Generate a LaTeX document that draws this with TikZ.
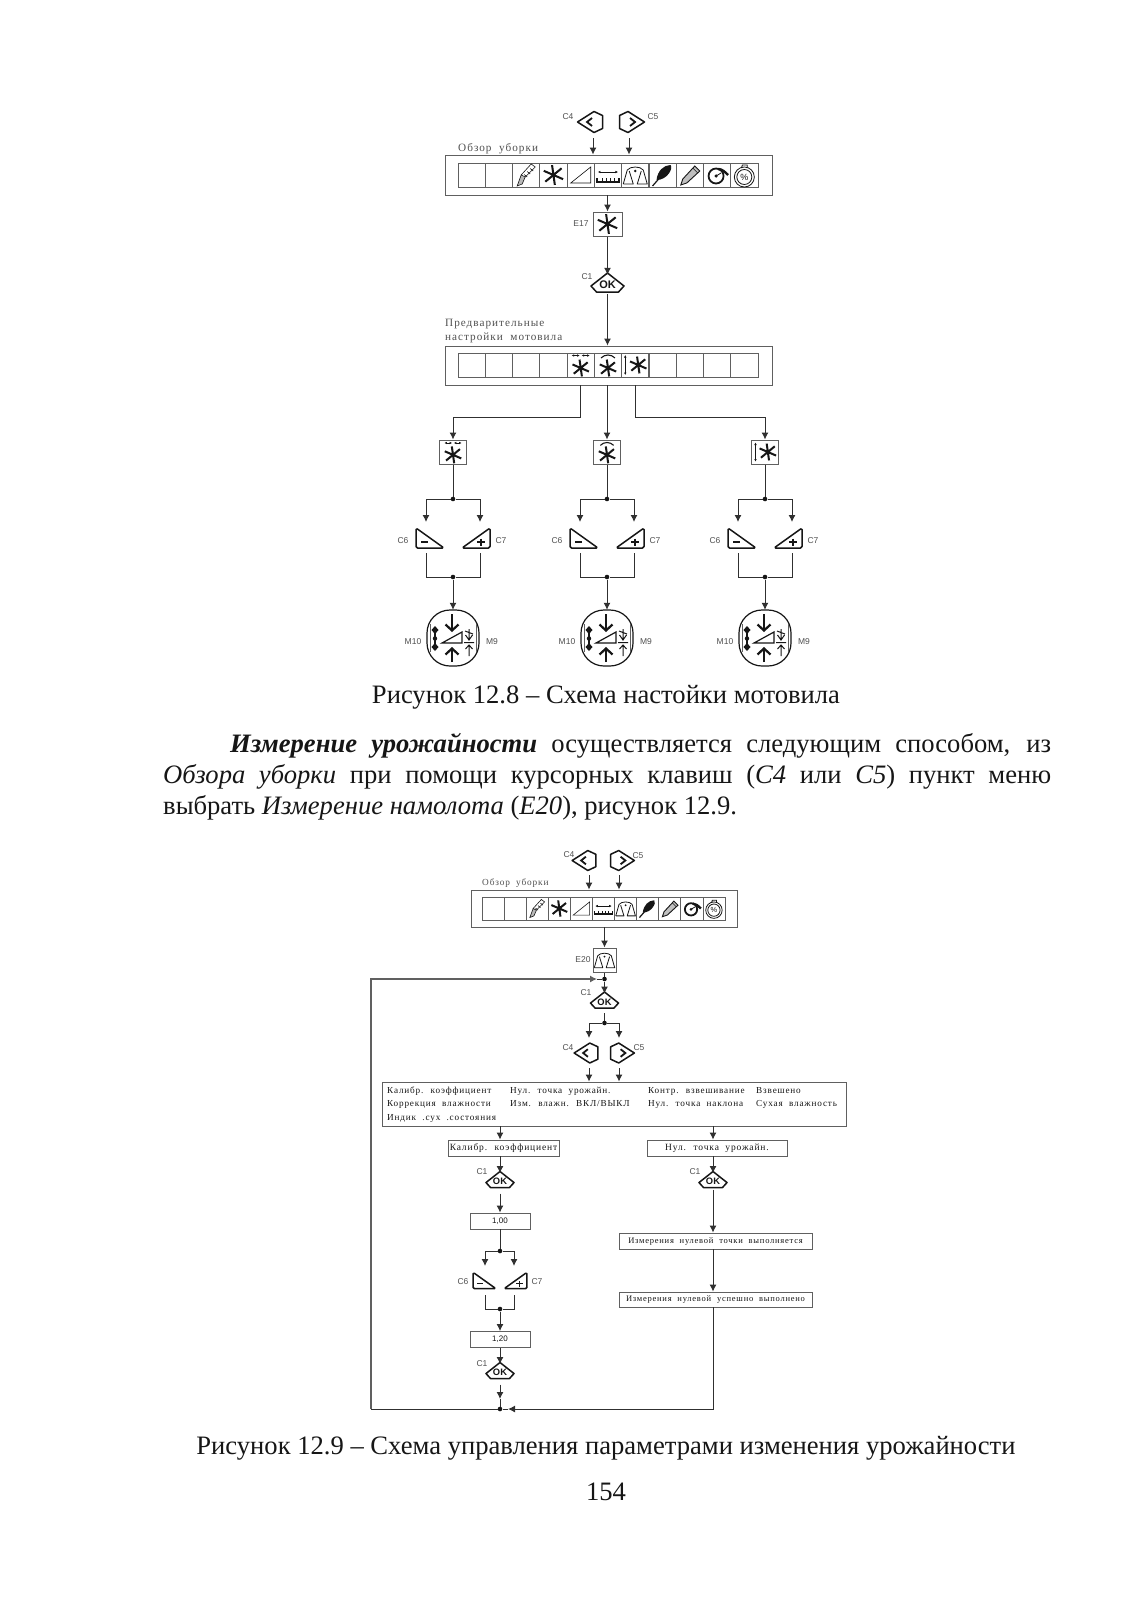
\documentclass[tikz,border=0pt]{standalone}
\usepackage{fontspec}
\usepackage{xcolor}
\setmainfont{Liberation Serif}
\setsansfont{Liberation Sans}
\newfontfamily\figfont[LetterSpace=9,WordSpace=2]{Liberation Serif}
\usetikzlibrary{arrows.meta}
\definecolor{linec}{HTML}{303030}
\definecolor{boxc}{HTML}{606060}
\definecolor{inkc}{HTML}{161616}
\definecolor{tagc}{HTML}{505050}
\tikzset{
  >={Latex[length=7pt,width=7pt]},
  flow/.style={->,linec,line width=1pt},
  wire/.style={linec,line width=1pt},
  junct/.style={circle,fill=inkc,inner sep=0pt,minimum size=4.6pt},
  barbox/.style={draw=boxc,line width=.9pt,inner sep=0pt},
  cellbox/.style={draw=boxc,line width=.8pt,inner sep=0pt},
  setbox/.style={draw=boxc,line width=1pt,inner sep=0pt,minimum width=27pt,minimum height=24pt},
  textbox/.style={draw=boxc,line width=.9pt,inner sep=0pt,font=\fontsize{9.5}{11}\figfont,text=inkc},
  figtext/.style={anchor=west,inner sep=0pt,font=\fontsize{9.2}{11}\figfont,text=inkc},
  figtitle/.style={anchor=west,inner sep=0pt,font=\fontsize{11.2}{13}\figfont,text=tagc},
  keytag/.style={inner sep=0pt,font=\fontsize{8.5}{10}\sffamily,text=tagc},
  bodytext/.style={inner sep=0pt,font=\fontsize{26.6}{31}\selectfont,text=inkc},
  keyline/.style={draw=inkc,line width=1.5pt,line join=round},
  thinline/.style={draw=inkc,line width=.6pt},
  tiny/.style={>={Latex[length=2.5pt,width=2.5pt]}},
  pics/star/.style={code={
    \draw[inkc,line width=2pt,rotate=8] (0,-10) -- (0,10) (-9,-5.5) -- (9,5.5) (-9,5.5) -- (9,-5.5);
  }},
  pics/starh/.style={code={
    \pic[scale=.85] at (0,3) {star};
    \draw[thinline,tiny,<->] (-9,-9.5) -- (-1,-9.5);
    \draw[thinline,tiny,<->] (1,-9.5) -- (9,-9.5);
  }},
  pics/stara/.style={code={
    \pic[scale=.85] at (0,3) {star};
    \draw[inkc,line width=1.1pt] (-7,-7) .. controls (-3,-11) and (3,-11) .. (7,-7);
  }},
  pics/starv/.style={code={
    \pic[scale=.85] at (3,0) {star};
    \draw[thinline,tiny,<->] (-10,-10) -- (-10,10);
  }},
  pics/wedge/.style={code={
    \draw[thinline] (-10,8) -- (10,-8) -- (10,8) -- cycle;
  }},
  pics/header/.style={code={
    \draw[thinline,tiny,<->] (-10,-3) -- (10,-3);
    \draw[inkc,line width=1.8pt] (-11,3) -- (-11,7) -- (11,7) -- (11,3);
    \foreach \tx in {-6,-2,2,6} \draw[inkc,line width=.7pt] (\tx,3) -- (\tx,6);
  }},
  pics/scales/.style={code={
    \draw[thinline,line width=.8pt,line join=round] (-12,9) -- (-8,-5) .. controls (-5,-9) and (5,-9) .. (8,-5) -- (12,9) -- (2,9) -- (6,-4) (-6,-4) -- (-2,9) -- (-12,9);
    \fill[inkc] (0,-4) circle (1.3pt);
  }},
  pics/blade/.style={code={
    \draw[thinline,fill=gray!55] (-9,11) -- (-5,0) -- (-1,2) -- (-4,9) -- cycle;
    \draw[thinline] (-5,0) -- (5,-11) -- (9,-8) -- (-1,2);
    \foreach \tx in {-2,1,4} \draw[thinline] (\tx,-2.5-\tx) -- (\tx+3,-\tx);
  }},
  pics/feather/.style={code={
    \draw[inkc,line width=1.2pt] (-10,11) -- (-3,3);
    \fill[inkc] (-6,5) .. controls (-5,-4) and (1,-10) .. (8,-10) .. controls (11,-7) and (5,5) .. (-6,5);
  }},
  pics/pencil/.style={code={
    \draw[inkc,line width=.9pt,fill=gray!50] (-9,10) -- (-7,4) -- (5,-9) -- (10,-4) -- (-3,8) -- cycle;
    \draw[thinline] (3,-7) -- (8,-2);
  }},
  pics/gauge/.style={code={
    \draw[inkc,line width=1.8pt] (-1,1) circle (7.5pt);
    \draw[inkc,line width=2.4pt] (1,-6) .. controls (5,-6) and (8,-3) .. (11,0);
    \fill[inkc] (-1,1) circle (1.8pt);
    \draw[inkc,line width=.8pt] (-1,1) -- (4,-2);
  }},
  pics/percent/.style={code={
    \draw[thinline,line width=.8pt] (0,2) circle (10pt) (0,2) circle (7.5pt) (-3,-7) -- (-2,-10) -- (3,-10) -- (3,-7);
    \node[inner sep=0pt,transform shape,font=\fontsize{9}{9}\sffamily,text=inkc] (-t) at (0,2) {\%};
  }},
  pics/keyl/.style={code={
    \draw[keyline] (-12.5,0) -- (4,-10.5) -- (12.5,-6.5) -- (12.5,6.5) -- (4,10.5) -- cycle;
    \draw[inkc,line width=1.8pt] (2,-4) -- (-3,0) -- (2,4);
  }},
  pics/keyr/.style={code={
    \draw[keyline] (12.5,0) -- (-4,-10.5) -- (-12.5,-6.5) -- (-12.5,6.5) -- (-4,10.5) -- cycle;
    \draw[inkc,line width=1.8pt] (-2,-4) -- (3,0) -- (-2,4);
  }},
  pics/okkey/.style={code={
    \draw[keyline] (0,-10) -- (-16.5,3) -- (-11,9) -- (11,9) -- (16.5,3) -- cycle;
    \node[inner sep=0pt,transform shape,minimum width=33pt,minimum height=19pt,
      font=\fontsize{11}{11}\sffamily\bfseries,text=inkc] (-k) at (0,1.5) {OK};
  }},
  pics/minuskey/.style={code={
    \draw[keyline,rounded corners=1.5pt] (-14,-10) -- (14,10) -- (-14,10) -- cycle;
    \draw[inkc,line width=1.3pt] (-9,4) -- (-2,4);
  }},
  pics/pluskey/.style={code={
    \draw[keyline,rounded corners=1.5pt] (14,-10) -- (14,10) -- (-14,10) -- cycle;
    \draw[inkc,line width=1.3pt] (1,4) -- (9,4) (5,.5) -- (5,7.5);
  }},
  pics/motor/.style={code={
    \draw[inkc,line width=1.2pt,rounded corners=23pt] (-26,-28) rectangle (26,28);
    \draw[boxc,line width=1pt] (-23,-14) -- (-23,14) (23,-14) -- (23,14);
    \node[inner sep=0pt,minimum width=52pt,minimum height=56pt] (-k) at (0,0) {};
    \draw[inkc,line width=2.2pt,-{Straight Barb[length=6pt,width=13pt]}] (-1,-24) -- (-1,-6);
    \draw[inkc,line width=2.2pt,-{Straight Barb[length=6pt,width=13pt]}] (-1,24) -- (-1,9);
    \draw[inkc,line width=1.2pt] (-11,5) -- (9,-6) -- (9,5) -- cycle;
    \draw[inkc,line width=1.6pt] (-18,-11) -- (-18,12);
    \foreach \my in {-8,9} \fill[inkc] (-18,\my-4) -- (-14.5,\my) -- (-18,\my+4) -- (-21.5,\my) -- cycle;
    \fill[inkc] (-18,.5) circle (2.2pt);
    \draw[inkc,line width=1pt] (11,4.5) -- (21,4.5) (16,-9) -- (16,2) (12.5,-3) -- (16,2) -- (19.5,-3) (12,-7) -- (20,-4);
    \draw[inkc,line width=1pt] (16,18) -- (16,7) (12.5,11) -- (16,7) -- (19.5,11);
  }}
}
\begin{document}
\begin{tikzpicture}[x=1pt,y=-1pt]
  \useasboundingbox (0,0) rectangle (1132,1601);
  \fill[white] (0,0) rectangle (1132,1601);
  % first scheme, top part
  \pic at (590,122) {keyl};
  \pic at (632,122) {keyr};
  \node[keytag] (tagAc) at (568,117) {C4};
  \node[keytag] (tagAd) at (653,117) {C5};
  \node[figtitle] (titleA) at (458,149) {Обзор уборки};
  \node[barbox,minimum width=327pt,minimum height=40pt] (barA) at (608.5,175) {};
  \foreach \i in {1,...,11}
    \node[cellbox,minimum width=27.3pt,minimum height=24pt] (cA\i) at ({458+(\i-.5)*27.27},175) {};
  \foreach \i/\ic in {3/blade,4/star,5/wedge,6/header,7/scales,8/feather,9/pencil,10/gauge,11/percent}
    \pic at (cA\i) {\ic};
  \coordinate (inAc) at (593,138);
  \coordinate (inAd) at (629,138);
  \draw[flow] (inAc) -- (inAc |- barA.north);
  \draw[flow] (inAd) -- (inAd |- barA.north);
  \node[setbox,minimum width=29pt] (setE) at (607.5,224) {};
  \pic at (setE) {star};
  \node[keytag] (tagE) at (581,224) {E17};
  \draw[flow] (setE |- barA.south) -- (setE.north);
  \pic (okA) at (607.5,283) {okkey};
  \node[keytag] (tagOkA) at (587,277) {C1};
  \draw[flow] (setE.south) -- (okA-k.north);
  \node[figtitle] (titleB) at (445,324) {Предварительные};
  \node[figtitle] (titleC) at (445,338) {настройки мотовила};
  \node[barbox,minimum width=327pt,minimum height=39pt] (barB) at (608.5,365.5) {};
  \foreach \i in {1,...,11}
    \node[cellbox,minimum width=27.3pt,minimum height=24pt] (cB\i) at ({458+(\i-.5)*27.27},365) {};
  \foreach \i/\ic in {5/starh,6/stara,7/starv}
    \pic at (cB\i) {\ic};
  \draw[flow] (okA-k.south) -- (okA-k.south |- barB.north);
  % three branches
  \foreach \nm/\dx/\ic/\cl in {a/0/starh/5,b/154/stara/6,c/312/starv/7}{
    \begin{scope}[xshift=\dx pt]
      \node[setbox] (set\nm) at (453,452) {};
      \pic[scale=.95] at (set\nm) {\ic};
      \node[junct] (jt\nm) at (453,499) {};
      \coordinate (in\nm l) at (426,522);
      \coordinate (in\nm r) at (480,522);
      \pic (mi\nm) at (430,538) {minuskey};
      \pic (pl\nm) at (476,538) {pluskey};
      \coordinate (out\nm l) at (426,553);
      \coordinate (out\nm r) at (480,553);
      \node[junct] (jb\nm) at (453,577) {};
      \pic (mo\nm) at (453,638) {motor};
      \node[keytag] (tc\nm) at (403,541) {C6};
      \node[keytag] (td\nm) at (501,541) {C7};
      \node[keytag] (tm\nm) at (413,642) {M10};
      \node[keytag] (tn\nm) at (492,642) {M9};
      \coordinate (knee\nm) at (453,417);
    \end{scope}
    \draw[wire] (set\nm.south) -- (jt\nm);
    \draw[flow] (jt\nm) -| (in\nm l);
    \draw[flow] (jt\nm) -| (in\nm r);
    \draw[wire] (out\nm l) |- (jb\nm);
    \draw[wire] (out\nm r) |- (jb\nm);
    \draw[flow] (jb\nm) -- (mo\nm-k.north);
    \draw[flow] (cB\cl |- barB.south) |- (knee\nm) -- (set\nm.north);
  }
  \node[bodytext] (capA) at (606,697) {Рисунок 12.8 – Схема настойки мотовила};
  \node[bodytext,anchor=north west,text width=888pt,align=justify] (para) at (163,733)
    {\hspace*{67pt}\textbf{\textit{Измерение урожайности}} осуществляется следующим способом, из\linebreak
     \textit{Обзора уборки} при помощи курсорных клавиш (\textit{C4} или \textit{C5}) пункт меню\linebreak
     выбрать \textit{Измерение намолота} (\textit{E20}), рисунок 12.9.};
  % second scheme, top part
  \pic[scale=.95] at (584,860.5) {keyl};
  \pic[scale=.95] at (622.5,860.5) {keyr};
  \node[keytag] (tagCc) at (569,855) {C4};
  \node[keytag] (tagCd) at (638,856) {C5};
  \node[figtitle,font=\fontsize{9.3}{11}\figfont] (titleD) at (482,883) {Обзор уборки};
  \node[barbox,minimum width=266pt,minimum height=37pt] (barC) at (604,908.5) {};
  \foreach \i in {1,...,11}
    \node[cellbox,minimum width=22.1pt,minimum height=23pt] (cC\i) at ({482+(\i-.5)*22.09},908.5) {};
  \foreach \i/\ic in {3/blade,4/star,5/wedge,6/header,7/scales,8/feather,9/pencil,10/gauge,11/percent}
    \pic[scale=.82] at (cC\i) {\ic};
  \coordinate (inCc) at (589,875);
  \coordinate (inCd) at (619,875);
  \draw[flow] (inCc) -- (inCc |- barC.north);
  \draw[flow] (inCd) -- (inCd |- barC.north);
  \node[setbox,minimum width=23pt] (setF) at (604.5,960) {};
  \pic[scale=.85] at (setF) {scales};
  \node[keytag] (tagF) at (583,960) {E20};
  \draw[flow] (setF |- barC.south) -- (setF.north);
  \node[junct] (jtop) at (604.5,979) {};
  \pic[scale=.85] (okB) at (604.5,1000.5) {okkey};
  \node[keytag] (tagOkB) at (586,993) {C1};
  \draw[wire] (setF.south) -- (jtop);
  \draw[flow] (jtop) -- (okB-k.north);
  \node[junct] (jkey) at (604.5,1023) {};
  \coordinate (gapB) at (604.5,1013);
  \coordinate (inDc) at (589,1038);
  \coordinate (inDd) at (619,1038);
  \draw[wire] (gapB) -- (jkey);
  \draw[flow] (jkey) -| (inDc);
  \draw[flow] (jkey) -| (inDd);
  \pic[scale=.95] at (586,1053) {keyl};
  \pic[scale=.95] at (622.5,1053) {keyr};
  \node[keytag] (tagDc) at (568,1048) {C4};
  \node[keytag] (tagDd) at (639,1048) {C5};
  \node[barbox,minimum width=464pt,minimum height=44pt] (menu) at (614,1104) {};
  \coordinate (outDc) at (589,1068);
  \coordinate (outDd) at (619,1068);
  \draw[flow] (outDc) -- (outDc |- menu.north);
  \draw[flow] (outDd) -- (outDd |- menu.north);
  \foreach \nm/\x/\y/\t in {ma/387/1091/Калибр. коэффициент,mb/510/1091/Нул. точка урожайн.,mc/648/1091/Контр. взвешивание,md/756/1091/Взвешено,
    me/387/1104/Коррекция влажности,mf/510/1104/{Изм. влажн. ВКЛ/ВЫКЛ},mg/648/1104/Нул. точка наклона,mh/756/1104/Сухая влажность,mi/387/1118/Индик .сух .состояния}
    \node[figtext] (\nm) at (\x,\y) {\t};
  % second scheme, left column
  \node[textbox,minimum width=111pt,minimum height=16pt] (boxL) at (503.5,1148) {Калибр. коэффициент};
  \coordinate (downL) at (500,1126);
  \draw[flow] (downL) -- (downL |- boxL.north);
  \pic[scale=.85] (okC) at (500,1180) {okkey};
  \node[keytag] (tagOkC) at (482,1172) {C1};
  \draw[flow] (downL |- boxL.south) -- (okC-k.north);
  \node[textbox,minimum width=60pt,minimum height=16pt,font=\fontsize{8}{10}\sffamily] (valA) at (500,1221) {1,00};
  \draw[flow] ([yshift=-4pt]okC-k.south) -- (valA.north);
  \node[junct] (jmid) at (500,1251) {};
  \coordinate (inEl) at (485,1266);
  \coordinate (inEr) at (514,1266);
  \draw[wire] (valA.south) -- (jmid);
  \draw[flow] (jmid) -| (inEl);
  \draw[flow] (jmid) -| (inEr);
  \pic[scale=.82] at (484.5,1280.5) {minuskey};
  \pic[scale=.82] at (515.5,1280.5) {pluskey};
  \node[keytag] (tagEc) at (463,1282) {C6};
  \node[keytag] (tagEd) at (537,1282) {C7};
  \coordinate (outEl) at (485,1295);
  \coordinate (outEr) at (514,1295);
  \node[junct] (jlow) at (500,1309) {};
  \draw[wire] (outEl) |- (jlow);
  \draw[wire] (outEr) |- (jlow);
  \node[textbox,minimum width=60pt,minimum height=16pt,font=\fontsize{8}{10}\sffamily] (valB) at (500,1339.5) {1,20};
  \draw[flow] (jlow) -- (valB.north);
  \pic[scale=.85] (okD) at (500,1371) {okkey};
  \node[keytag] (tagOkD) at (482,1364) {C1};
  \draw[flow] (valB.south) -- (okD-k.north);
  % second scheme, right column
  \node[textbox,minimum width=140pt,minimum height=16pt] (boxR) at (717,1148) {Нул. точка урожайн.};
  \coordinate (downR) at (713,1126);
  \draw[flow] (downR) -- (downR |- boxR.north);
  \pic[scale=.85] (okE) at (713,1180) {okkey};
  \node[keytag] (tagOkE) at (695,1172) {C1};
  \draw[flow] (downR |- boxR.south) -- (okE-k.north);
  \node[textbox,minimum width=193pt,minimum height=16pt,font=\fontsize{8.5}{10}\figfont] (boxS) at (715.5,1241) {Измерения нулевой точки выполняется};
  \draw[flow] (okE-k.south) -- (okE-k.south |- boxS.north);
  \node[textbox,minimum width=193pt,minimum height=15pt,font=\fontsize{8.5}{10}\figfont] (boxT) at (715.5,1299.5) {Измерения нулевой успешно выполнено};
  \draw[flow] (downR |- boxS.south) -- (downR |- boxT.north);
  % return line
  \node[junct] (jend) at (500,1409) {};
  \coordinate (loopA) at (508,1409);
  \coordinate (loopB) at (371,1409);
  \coordinate (loopC) at (371,979);
  \coordinate (loopD) at (597,979);
  \coordinate (midD) at (500,1399);
  \draw[flow] (downR |- boxT.south) |- (loopA);
  \draw[wire] (loopA) -- (jend) -- (loopB);
  \draw[flow,line width=1.2pt,boxc] (loopB) -- (loopC) -- (loopD);
  \draw[wire] (loopD) -- (jtop);
  \draw[flow] ([yshift=-4pt]okD-k.south) -- (midD);
  \draw[wire] (midD) -- (jend);
  \node[bodytext] (capB) at (606,1448) {Рисунок 12.9 – Схема управления параметрами изменения урожайности};
  \node[bodytext] (pageno) at (606,1492) {154};
\end{tikzpicture}
\end{document}
